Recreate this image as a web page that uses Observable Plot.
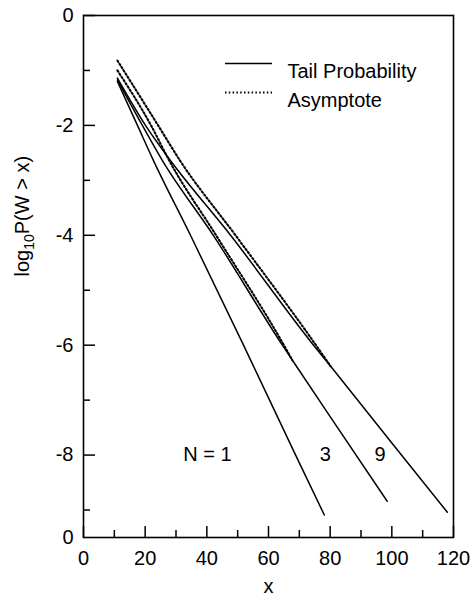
<!DOCTYPE html>
<html>
<head>
<meta charset="utf-8">
<script src="https://cdn.jsdelivr.net/npm/d3@7"></script>
<script src="https://cdn.jsdelivr.net/npm/@observablehq/plot@0.6"></script>
<style>
  html, body { margin: 0; padding: 0; background: #fff; }
  #chart { width: 471px; height: 600px; }
</style>
</head>
<body>
<div id="chart"></div>
<script>
// ---- Data ----
const xTicks = [0, 20, 40, 60, 80, 100, 120];
const xMinorTicks = [10, 30, 50, 70, 90, 110];
const yTicks = [0, -2, -4, -6, -8, -9.5];
const yTickLabels = ["0", "-2", "-4", "-6", "-8", "0"];
const yMajorTicks = [0, -2, -4, -6, -8];
const yMinorTicks = [-1, -3, -5, -7, -9];

// Tail probability curves (solid)
const tailN1x = [11, 17.5, 22.7, 34.7, 51.9, 68.8, 78.1];
const tailN1y = [-1.2, -2.0, -2.64, -4.0, -6.0, -8.0, -9.09];
const tailN3x = [11, 19.1, 25.6, 42.1, 64.5, 67.7, 80.1, 98.5];
const tailN3y = [-1.17, -2.0, -2.64, -4.0, -6.0, -6.27, -7.31, -8.84];
const tailN9x = [11, 20.1, 28.2, 47.7, 74.6, 80.1, 100, 118];
const tailN9y = [-1.14, -2.0, -2.64, -4.0, -6.0, -6.38, -7.78, -9.04];

// Asymptote curves (dotted)
const asymN3x = [11, 21.9, 27.8, 43.0, 65.0, 67.7];
const asymN3y = [-1.0, -2.0, -2.64, -4.0, -6.0, -6.27];
const asymN9x = [11, 24.2, 31.3, 49.3, 75.4, 80.1];
const asymN9y = [-0.82, -2.0, -2.64, -4.0, -6.0, -6.38];

// Curve labels
const curveLabels = ["N = 1", "3", "9"];
const curveLabelX = [40.2, 78.4, 96.2];
const curveLabelY = [-8, -8, -8];
const curveLabelAnchor = ["start", "middle", "middle"];

const legendLabels = ["Tail Probability", "Asymptote"];

// ---- Build tables ----
function series(n, xs, ys) { return xs.map((x, i) => ({n, x, y: ys[i]})); }
const tail = [
  ...series(1, tailN1x, tailN1y),
  ...series(3, tailN3x, tailN3y),
  ...series(9, tailN9x, tailN9y)
];
const asym = [
  ...series(3, asymN3x, asymN3y),
  ...series(9, asymN9x, asymN9y)
];
const labels = curveLabels.map((t, i) => ({t, x: curveLabelX[i], y: curveLabelY[i], a: curveLabelAnchor[i]}));

const W = 471, H = 600, mL = 83, mR = 18, mT = 15, mB = 63;
const frameW = W - mL - mR, frameH = H - mT - mB;
const font = "'Liberation Sans', Arial, Helvetica, sans-serif";

const chart = Plot.plot({
  width: W,
  height: H,
  marginLeft: mL,
  marginRight: mR,
  marginTop: mT,
  marginBottom: mB,
  style: {fontFamily: font, fontSize: "20px", background: "#fff", color: "#000"},
  x: {domain: [0, 120]},
  y: {domain: [-9.5, 0]},
  marks: [
    Plot.axisX(xTicks, {tickSize: 0, tickPadding: 13, tickFormat: d => String(d), label: null, fontSize: 20}),
    Plot.axisY(yTicks, {tickSize: 0, tickPadding: 10, tickFormat: d => yTickLabels[yTicks.indexOf(d)], label: null, fontSize: 20}),
    Plot.tickX(xTicks, {x: d => d, insetTop: frameH - 11, stroke: "#000", strokeWidth: 1.5}),
    Plot.tickX(xMinorTicks, {x: d => d, insetTop: frameH - 7, stroke: "#000", strokeWidth: 1.5}),
    Plot.tickY(yMajorTicks, {y: d => d, insetRight: frameW - 12, stroke: "#000", strokeWidth: 1.5}),
    Plot.tickY(yMinorTicks, {y: d => d, insetRight: frameW - 7, stroke: "#000", strokeWidth: 1.5}),
    Plot.frame({stroke: "#000", strokeWidth: 1.6}),
    Plot.line(tail, {x: "x", y: "y", z: "n", stroke: "#000", strokeWidth: 1.5, curve: "monotone-x"}),
    Plot.line(asym, {x: "x", y: "y", z: "n", stroke: "#000", strokeWidth: 2.1, strokeDasharray: "1.5 2.3", curve: "monotone-x"}),
    Plot.text(labels, {x: "x", y: "y", text: "t", textAnchor: d => d.a, fontSize: 20, fill: "#000"}),
    // legend
    Plot.ruleY([0], {dy: 48, insetLeft: 142, insetRight: 181, stroke: "#000", strokeWidth: 1.5}),
    Plot.ruleY([0], {dy: 77, insetLeft: 142, insetRight: 181, stroke: "#000", strokeWidth: 1.8, strokeDasharray: "1.5 2.3"}),
    Plot.text([legendLabels[0]], {frameAnchor: "top-left", dx: 204, dy: 48, textAnchor: "start", fontSize: 20, fill: "#000"}),
    Plot.text([legendLabels[1]], {frameAnchor: "top-left", dx: 204, dy: 77, textAnchor: "start", fontSize: 20, fill: "#000"}),
    // axis titles
    Plot.text(["x"], {frameAnchor: "bottom", dy: 55, fontSize: 20, fill: "#000"}),
    Plot.text(["ylabel"], {frameAnchor: "left", dx: -61, rotate: -90, fontSize: 20, fill: "#000", className: "ylab"})
  ]
});

document.getElementById("chart").appendChild(chart);

// Replace y-axis title with subscripted text
const yl = d3.select(chart).selectAll(".ylab text");
yl.text(null);
yl.append("tspan").text("log");
yl.append("tspan").attr("dy", 5).attr("font-size", 14).text("10");
yl.append("tspan").attr("dy", -5).text("P(W > x)");
</script>
</body>
</html>
